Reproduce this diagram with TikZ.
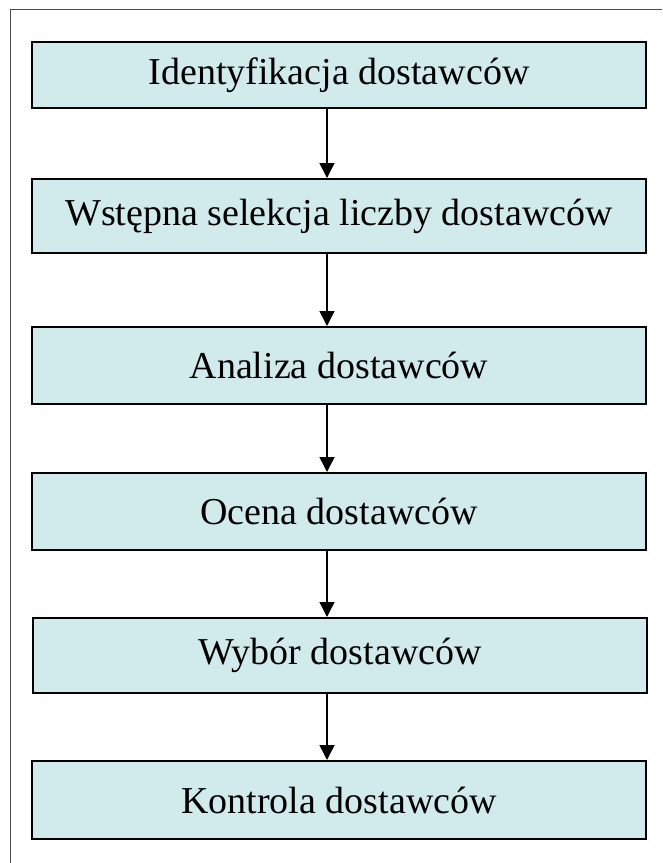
\documentclass[tikz,border=0pt]{standalone}
\usepackage{fontspec}
\setmainfont{Liberation Serif}
\usetikzlibrary{arrows.meta}
\definecolor{boxfill}{HTML}{D1EBEC}
\tikzset{
  stepbox/.style={draw=black, line width=2pt, fill=boxfill, rectangle,
    minimum width=614pt, inner sep=0pt,
    font=\fontsize{38}{44}\selectfont},
  flowarrow/.style={line width=1.4pt, -{Triangle[length=15pt,width=15pt]}}
}
\begin{document}
\begin{tikzpicture}[x=1pt,y=-1pt]
\useasboundingbox (0,0) rectangle (662,863);
\draw[black!70, line width=1pt] (10,863) -- (10,9) -- (662,9);
\coordinate (ax) at (327,0);
\node[stepbox, minimum height=66pt] (s1) at (339,75) {Identyfikacja dostawców};
\node[stepbox, minimum height=74pt] (s2) at (339,216) {Wstępna selekcja liczby dostawców};
\node[stepbox, minimum height=77pt] (s3) at (339,365.5) {Analiza dostawców};
\node[stepbox, minimum height=77pt] (s4) at (339,511.5) {Ocena dostawców};
\node[stepbox, minimum height=75pt] (s5) at (340,655.5) {Wybór dostawców};
\node[stepbox, minimum height=78pt] (s6) at (339,800) {Kontrola dostawców};
\draw[flowarrow] (s1.south -| ax) -- (s2.north -| ax);
\draw[flowarrow] (s2.south -| ax) -- (s3.north -| ax);
\draw[flowarrow] (s3.south -| ax) -- (s4.north -| ax);
\draw[flowarrow] (s4.south -| ax) -- (s5.north -| ax);
\draw[flowarrow] (s5.south -| ax) -- (s6.north -| ax);
\end{tikzpicture}
\end{document}
